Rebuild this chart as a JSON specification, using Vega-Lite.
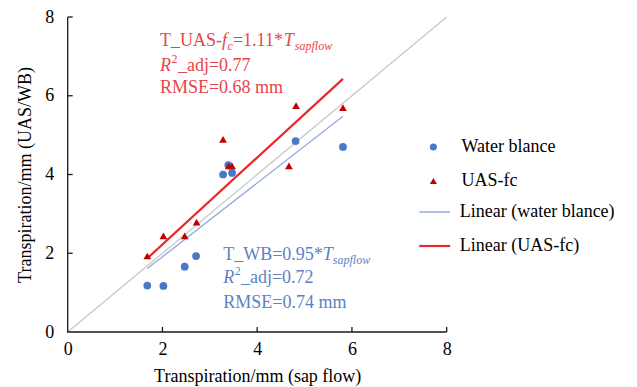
{
  "$schema": "https://vega.github.io/schema/vega-lite/v6.json",
  "width": 379,
  "height": 315,
  "autosize": {"type": "none"},
  "padding": {"left": 67.7, "top": 17, "right": 190.3, "bottom": 55},
  "background": "white",
  "config": {
    "view": {"stroke": null},
    "font": "Liberation Serif",
    "axis": {
      "grid": false,
      "labelFont": "Liberation Serif",
      "labelFontSize": 18,
      "labelColor": "#000000",
      "titleFont": "Liberation Serif",
      "titleFontSize": 18,
      "titleFontWeight": "normal",
      "titleColor": "#000000"
    },
    "legend": {
      "labelFont": "Liberation Serif",
      "labelFontSize": 18,
      "labelColor": "#000000",
      "title": null,
      "rowPadding": 14
    }
  },
  "datasets": {
    "pts": [
      {"sap": 1.68, "est": 1.18, "series": "Water blance"},
      {"sap": 2.02, "est": 1.17, "series": "Water blance"},
      {"sap": 2.47, "est": 1.66, "series": "Water blance"},
      {"sap": 2.71, "est": 1.93, "series": "Water blance"},
      {"sap": 3.28, "est": 4.00, "series": "Water blance"},
      {"sap": 3.39, "est": 4.24, "series": "Water blance"},
      {"sap": 3.47, "est": 4.04, "series": "Water blance"},
      {"sap": 4.81, "est": 4.85, "series": "Water blance"},
      {"sap": 5.81, "est": 4.70, "series": "Water blance"},
      {"sap": 1.68, "est": 1.93, "series": "UAS-fc"},
      {"sap": 2.02, "est": 2.44, "series": "UAS-fc"},
      {"sap": 2.47, "est": 2.44, "series": "UAS-fc"},
      {"sap": 2.72, "est": 2.79, "series": "UAS-fc"},
      {"sap": 3.28, "est": 4.89, "series": "UAS-fc"},
      {"sap": 3.40, "est": 4.22, "series": "UAS-fc"},
      {"sap": 3.47, "est": 4.22, "series": "UAS-fc"},
      {"sap": 4.67, "est": 4.22, "series": "UAS-fc"},
      {"sap": 4.82, "est": 5.75, "series": "UAS-fc"},
      {"sap": 5.81, "est": 5.70, "series": "UAS-fc"}
    ],
    "oneone": [
      {"sap": 0, "est": 0},
      {"sap": 8, "est": 8}
    ],
    "axisline": [
      {"sap": 0, "est": 8, "k": 1},
      {"sap": 0, "est": 0, "k": 2},
      {"sap": 8, "est": 0, "k": 3}
    ],
    "xticks": [
      {"sap": 2, "est": 0}, {"sap": 4, "est": 0}, {"sap": 6, "est": 0}, {"sap": 8, "est": 0}
    ],
    "yticks": [
      {"sap": 0, "est": 2}, {"sap": 0, "est": 4}, {"sap": 0, "est": 6}, {"sap": 0, "est": 8}
    ],
    "fits": [
      {"sap": 1.68, "est": 1.61, "fit": "Linear (water blance)"},
      {"sap": 5.81, "est": 5.48, "fit": "Linear (water blance)"},
      {"sap": 1.68, "est": 1.87, "fit": "Linear (UAS-fc)"},
      {"sap": 5.81, "est": 6.43, "fit": "Linear (UAS-fc)"}
    ],
    "redNormal": [
      {"sap": 1.947, "est": 7.27, "t": "T_UAS-"},
      {"sap": 3.487, "est": 7.27, "t": "=1.11*"},
      {"sap": 2.327, "est": 6.64, "t": "_adj=0.77"},
      {"sap": 1.947, "est": 6.06, "t": "RMSE=0.68 mm"}
    ],
    "redItalic": [
      {"sap": 3.255, "est": 7.27, "t": "f"},
      {"sap": 4.563, "est": 7.27, "t": "T"},
      {"sap": 1.947, "est": 6.64, "t": "R"}
    ],
    "redSub": [
      {"sap": 3.371, "est": 7.17, "t": "c"},
      {"sap": 4.795, "est": 7.17, "t": "sapflow"}
    ],
    "redSup": [
      {"sap": 2.19, "est": 6.84, "t": "2"}
    ],
    "blueNormal": [
      {"sap": 3.283, "est": 1.83, "t": "T_WB=0.95*"},
      {"sap": 3.656, "est": 1.24, "t": "_adj=0.72"},
      {"sap": 3.283, "est": 0.60, "t": "RMSE=0.74 mm"}
    ],
    "blueItalic": [
      {"sap": 5.386, "est": 1.83, "t": "T"},
      {"sap": 3.283, "est": 1.24, "t": "R"}
    ],
    "blueSub": [
      {"sap": 5.597, "est": 1.73, "t": "sapflow"}
    ],
    "blueSup": [
      {"sap": 3.525, "est": 1.44, "t": "2"}
    ]
  },
  "layer": [
    {
      "data": {"name": "oneone"},
      "mark": {"type": "line", "color": "#c8c8c8", "strokeWidth": 1.3},
      "encoding": {
        "x": {
          "field": "sap", "type": "quantitative",
          "scale": {"domain": [0, 8], "nice": false},
          "axis": {"values": [0, 2, 4, 6, 8], "title": "Transpiration/mm (sap flow)", "labelFlush": false, "labelPadding": 8, "titlePadding": 9,
                   "domain": false, "ticks": false}
        },
        "y": {
          "field": "est", "type": "quantitative",
          "scale": {"domain": [0, 8], "nice": false},
          "axis": {"values": [0, 2, 4, 6, 8], "title": "Transpiration/mm (UAS/WB)", "labelFlush": false, "labelPadding": 14, "titlePadding": 10,
                   "domain": false, "ticks": false}
        }
      }
    },
    {
      "data": {"name": "axisline"},
      "mark": {"type": "line", "color": "#1a1a1a", "strokeWidth": 1.3},
      "encoding": {
        "x": {"field": "sap", "type": "quantitative"},
        "y": {"field": "est", "type": "quantitative"},
        "order": {"field": "k", "type": "quantitative"}
      }
    },
    {
      "data": {"name": "xticks"},
      "mark": {"type": "point", "filled": false, "shape": "M0,0V-1", "size": 100, "color": "#1a1a1a", "strokeWidth": 1.3, "opacity": 1},
      "encoding": {
        "x": {"field": "sap", "type": "quantitative"},
        "y": {"field": "est", "type": "quantitative"}
      }
    },
    {
      "data": {"name": "yticks"},
      "mark": {"type": "point", "filled": false, "shape": "M0,0H1", "size": 100, "color": "#1a1a1a", "strokeWidth": 1.3, "opacity": 1},
      "encoding": {
        "x": {"field": "sap", "type": "quantitative"},
        "y": {"field": "est", "type": "quantitative"}
      }
    },
    {
      "data": {"name": "fits"},
      "mark": {"type": "line"},
      "encoding": {
        "x": {"field": "sap", "type": "quantitative"},
        "y": {"field": "est", "type": "quantitative"},
        "color": {
          "field": "fit", "type": "nominal",
          "scale": {"domain": ["Linear (water blance)", "Linear (UAS-fc)"], "range": ["#8eaadb", "#e8282c"]},
          "legend": {
            "orient": "none", "legendX": 358, "legendY": 186,
            "symbolType": "stroke", "symbolSize": 961, "symbolStrokeWidth": 2, "labelOffset": 16, "rowPadding": 16,
            "encode": {"symbols": {"update": {"strokeWidth": {"signal": "datum.value === 'Linear (UAS-fc)' ? 2.2 : 1.4"}}}}
          }
        },
        "strokeWidth": {
          "field": "fit", "type": "nominal",
          "scale": {"domain": ["Linear (water blance)", "Linear (UAS-fc)"], "range": [1.3, 2.2]},
          "legend": null
        }
      }
    },
    {
      "data": {"name": "pts"},
      "mark": {"type": "point", "filled": true, "opacity": 1},
      "encoding": {
        "x": {"field": "sap", "type": "quantitative"},
        "y": {"field": "est", "type": "quantitative"},
        "color": {
          "field": "series", "type": "nominal",
          "scale": {"domain": ["Water blance", "UAS-fc"], "range": ["#4a78c8", "#c00000"]},
          "legend": {"orient": "none", "legendX": 356.7, "legendY": 121, "labelOffset": 19, "rowPadding": 16, "symbolSize": 50}
        },
        "shape": {
          "field": "series", "type": "nominal",
          "scale": {"domain": ["Water blance", "UAS-fc"], "range": ["circle", "triangle-up"]}
        },
        "size": {"value": 60}
      }
    },
    {"data": {"name": "redNormal"}, "mark": {"type": "text", "align": "left", "baseline": "alphabetic", "fontSize": 18, "color": "#e8454a"}, "encoding": {"x": {"field": "sap", "type": "quantitative"}, "y": {"field": "est", "type": "quantitative"}, "text": {"field": "t"}}},
    {"data": {"name": "redItalic"}, "mark": {"type": "text", "align": "left", "baseline": "alphabetic", "fontSize": 18, "fontStyle": "italic", "color": "#e8454a"}, "encoding": {"x": {"field": "sap", "type": "quantitative"}, "y": {"field": "est", "type": "quantitative"}, "text": {"field": "t"}}},
    {"data": {"name": "redSub"}, "mark": {"type": "text", "align": "left", "baseline": "alphabetic", "fontSize": 12, "fontStyle": "italic", "color": "#e8454a"}, "encoding": {"x": {"field": "sap", "type": "quantitative"}, "y": {"field": "est", "type": "quantitative"}, "text": {"field": "t"}}},
    {"data": {"name": "redSup"}, "mark": {"type": "text", "align": "left", "baseline": "alphabetic", "fontSize": 12, "color": "#e8454a"}, "encoding": {"x": {"field": "sap", "type": "quantitative"}, "y": {"field": "est", "type": "quantitative"}, "text": {"field": "t"}}},
    {"data": {"name": "blueNormal"}, "mark": {"type": "text", "align": "left", "baseline": "alphabetic", "fontSize": 18, "color": "#5b82c4"}, "encoding": {"x": {"field": "sap", "type": "quantitative"}, "y": {"field": "est", "type": "quantitative"}, "text": {"field": "t"}}},
    {"data": {"name": "blueItalic"}, "mark": {"type": "text", "align": "left", "baseline": "alphabetic", "fontSize": 18, "fontStyle": "italic", "color": "#5b82c4"}, "encoding": {"x": {"field": "sap", "type": "quantitative"}, "y": {"field": "est", "type": "quantitative"}, "text": {"field": "t"}}},
    {"data": {"name": "blueSub"}, "mark": {"type": "text", "align": "left", "baseline": "alphabetic", "fontSize": 12, "fontStyle": "italic", "color": "#5b82c4"}, "encoding": {"x": {"field": "sap", "type": "quantitative"}, "y": {"field": "est", "type": "quantitative"}, "text": {"field": "t"}}},
    {"data": {"name": "blueSup"}, "mark": {"type": "text", "align": "left", "baseline": "alphabetic", "fontSize": 12, "color": "#5b82c4"}, "encoding": {"x": {"field": "sap", "type": "quantitative"}, "y": {"field": "est", "type": "quantitative"}, "text": {"field": "t"}}}
  ],
  "resolve": {"scale": {"color": "independent", "shape": "independent"}}
}
